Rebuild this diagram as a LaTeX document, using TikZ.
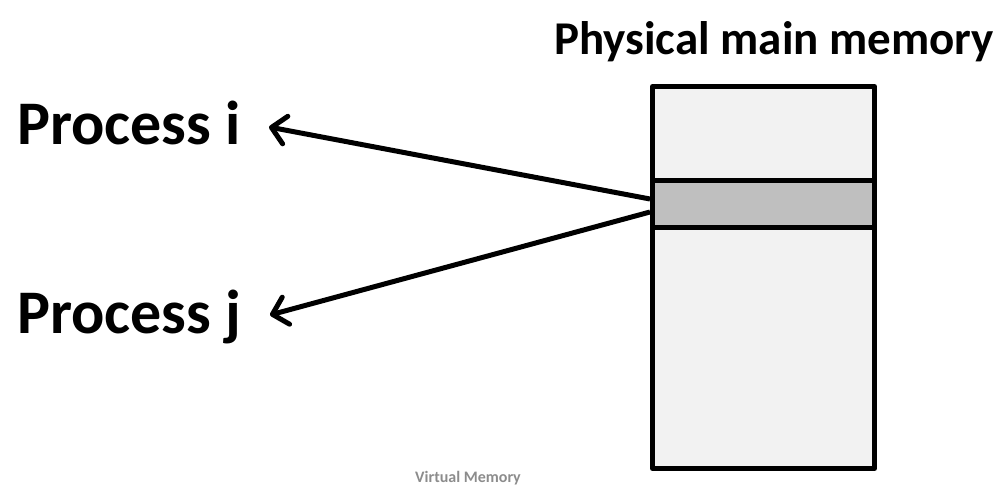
\documentclass[tikz,border=0pt]{standalone}
\usepackage{fontspec}
\setmainfont{Carlito}
\usetikzlibrary{arrows.meta}
\definecolor{memlight}{HTML}{F2F2F2}
\definecolor{memgray}{HTML}{BFBFBF}
\definecolor{captiongray}{HTML}{8C8C8C}
\tikzset{
  memblock/.style={draw=black, line width=5pt, line join=round},
  mapping/.style={draw=black, line width=5pt, -{Straight Barb[length=14pt, width=28pt, line cap=round, line join=round]}},
  bigtext/.style={font=\bfseries\fontsize{62}{66}\selectfont, anchor=base west, inner sep=0pt},
  titletext/.style={font=\bfseries\fontsize{47}{52}\selectfont, anchor=base west, inner sep=0pt},
}
\begin{document}
\begin{tikzpicture}[x=1pt, y=-1pt]
\useasboundingbox (0,0) rectangle (1004,489);
% memory
\filldraw[memblock, fill=memlight] (652.5,86.5) rectangle (874.5,468.5);
\filldraw[memblock, fill=memgray] (652.5,181) rectangle (874.5,228);
\coordinate (srcI) at (650,199);
\coordinate (srcJ) at (650,212);
% texts
\node[titletext] (title) at (554,55) {Physical main memory};
\node[bigtext] (pi) at (17,145) {Process i};
\node[bigtext] (pj) at (17,333) {Process j};
\node[font=\bfseries\fontsize{16}{18}\selectfont, text=captiongray, anchor=base, inner sep=0pt] (cap) at (468,482) {Virtual Memory};
% arrows
\coordinate (tipI) at (269,127);
\coordinate (tipJ) at (270,315);
\draw[mapping] (srcI) -- (tipI);
\draw[mapping] (srcJ) -- (tipJ);
\end{tikzpicture}
\end{document}
